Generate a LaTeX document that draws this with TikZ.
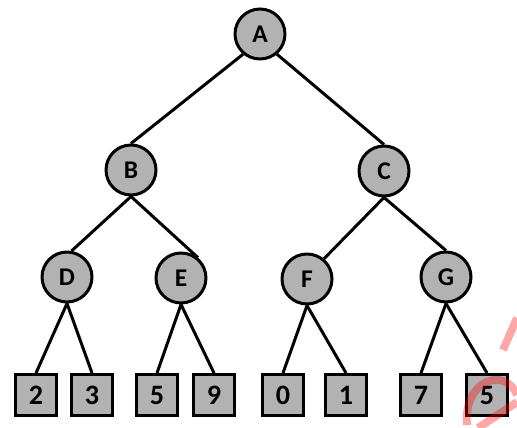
\documentclass[tikz,border=0pt]{standalone}
\usepackage{fontspec}
\setmainfont{Carlito}
\usepackage{tikz}
\usepackage{xcolor}

\begin{document}
\begin{tikzpicture}[x=0.02cm,y=-0.02cm,line width=1.7pt,
	vert/.style={circle,draw,fill=black!30,minimum size=1cm,inner sep=0pt,font=\fontsize{14.5pt}{16pt}\bfseries},
	leaf/.style={rectangle,draw,fill=black!30,minimum size=0.82cm,inner sep=0pt,font=\fontsize{16pt}{18pt}\bfseries}]

	\useasboundingbox (0,0) rectangle (517,428);

	% vertices
	\node[vert] (A) at (260,34) {A};
	\node[vert] (B) at (131,170) {B};
	\node[vert] (C) at (384,171) {C};
	\node[vert] (D) at (67,277) {D};
	\node[vert] (E) at (181,278) {E};
	\node[vert] (F) at (307,279) {F};
	\node[vert] (G) at (446,277) {G};

	% leaves
	\node[leaf] (d1) at (36,395) {2};
	\node[leaf] (d2) at (92,395) {3};
	\node[leaf] (e1) at (157,395) {5};
	\node[leaf] (e2) at (214,395) {9};
	\node[leaf] (f1) at (283,395) {0};
	\node[leaf] (f2) at (346,395) {1};
	\node[leaf] (g1) at (421,395) {7};
	\node[leaf] (g2) at (487,395) {5};

	% edges
	\draw (A.230) -- (B.north);
	\draw (A.310) -- (C.north);
	\draw (B.south) -- (D.80);
	\draw (B.south) -- (E.50);
	\draw (C.south) -- (F.50);
	\draw (C.south) -- (G.north);
\draw (D.south) -- (d1.north);
\draw (D.south) -- (d2.north);
\draw (E.south) -- (e1.north);
\draw (E.south) -- (e2.north);
\draw (F.south) -- (f1.north);
\draw (F.south) -- (f2.north);
\draw (G.south) -- (g1.north);
\draw (G.south) -- (g2.north);

	% red mark
	\draw[red,opacity=0.35,line width=4.5pt] (517,318) -- (503,350);
	\draw[red,opacity=0.35,line width=4.5pt] (467,425) .. controls (463,380) and (505,366) .. (517,395);
	\draw[red,opacity=0.35,line width=4.5pt] (478,428) -- (517,402);

\end{tikzpicture}
\end{document}
